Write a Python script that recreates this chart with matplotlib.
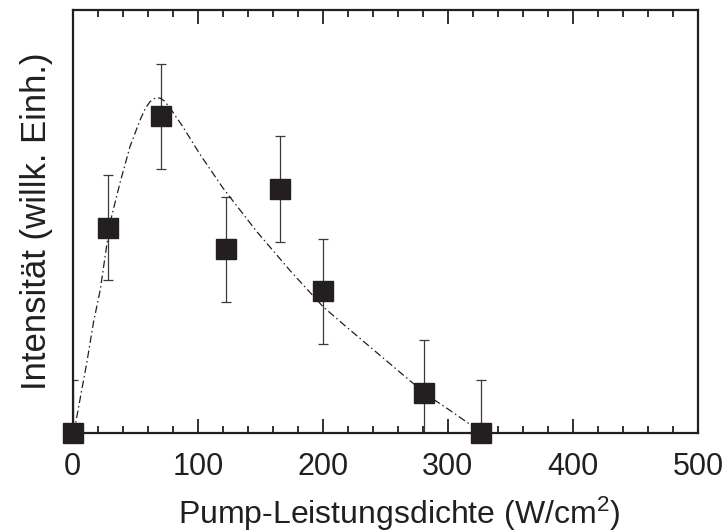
import matplotlib
matplotlib.use("Agg")
import matplotlib.pyplot as plt
from matplotlib.ticker import MultipleLocator, NullLocator

plt.rcParams['font.family'] = ['Liberation Sans', 'DejaVu Sans']
plt.rcParams['mathtext.fontset'] = 'custom'
plt.rcParams['mathtext.rm'] = 'Liberation Sans'
plt.rcParams['mathtext.it'] = 'Liberation Sans'

# Measured intensities (arbitrary units) vs. pump power density
power = [0, 28.0, 70.8, 122.7, 165.8, 200.4, 280.9, 326.3]
intensity = [0.0, 3.89, 6.00, 3.48, 4.62, 2.68, 0.76, 0.0]
intensity_err = [1.0, 1.0, 1.0, 1.0, 1.0, 1.0, 1.0, 1.0]

# Model curve
fit_power = [0, 1.8, 7.2, 11.2, 16.5, 22, 29.8, 37.8, 45.8, 53.8, 58, 61.8,
             66, 69.8, 73.5, 77.8, 88.2, 101.8, 120.2, 147, 174, 200.2,
             217.7, 240.1, 267, 283, 300, 320, 326.5]
fit_intensity = [0, 0.11, 0.81, 1.32, 2.08, 2.71, 3.98, 4.74, 5.43, 5.93,
                 6.15, 6.28, 6.35, 6.35, 6.29, 6.16, 5.80, 5.28, 4.64, 3.82,
                 3.07, 2.39, 2.03, 1.58, 1.04, 0.72, 0.45, 0.12, 0.0]

x_ticks = [0, 100, 200, 300, 400, 500]

fig = plt.figure(figsize=(7.28, 5.32), dpi=100)
ax = fig.add_axes([0.0999, 0.1867, 0.9588 - 0.0999, 0.9812 - 0.1867])

ink = '#231f20'

ax.errorbar(power, intensity, yerr=intensity_err, fmt='none',
            ecolor='#3a3a3a', elinewidth=0.9, capsize=3.4, capthick=0.9,
            zorder=2)
ax.plot(power, intensity, linestyle='none', marker='s', markersize=14,
        color=ink, clip_on=False, zorder=3)
ax.plot(fit_power, fit_intensity, color=ink, linewidth=0.9,
        dashes=(6, 2.5, 1.2, 2.5), zorder=4)

ax.set_xlim(0, 500)
ax.set_ylim(0, 8.02)
ax.set_xticks(x_ticks)
ax.xaxis.set_minor_locator(MultipleLocator(20))
ax.yaxis.set_major_locator(NullLocator())
ax.yaxis.set_minor_locator(NullLocator())

ax.tick_params(axis='x', which='both', direction='in', top=True, bottom=True,
               labelsize=22, colors=ink, pad=14)
ax.tick_params(axis='x', which='major', length=10, width=1.3)
ax.tick_params(axis='x', which='minor', length=5, width=1.3)
ax.tick_params(axis='y', left=False, right=False, labelleft=False)

for s in ax.spines.values():
    s.set_linewidth(1.6)
    s.set_color(ink)

ax.set_xlabel('Pump-Leistungsdichte (W/cm$^{2}$)', fontsize=23, color=ink,
              labelpad=9)
ax.xaxis.label.set_x(0.522)
ax.set_ylabel('Intensität (willk. Einh.)', fontsize=25, color=ink, labelpad=14)

fig.savefig('out.png', dpi=100)
